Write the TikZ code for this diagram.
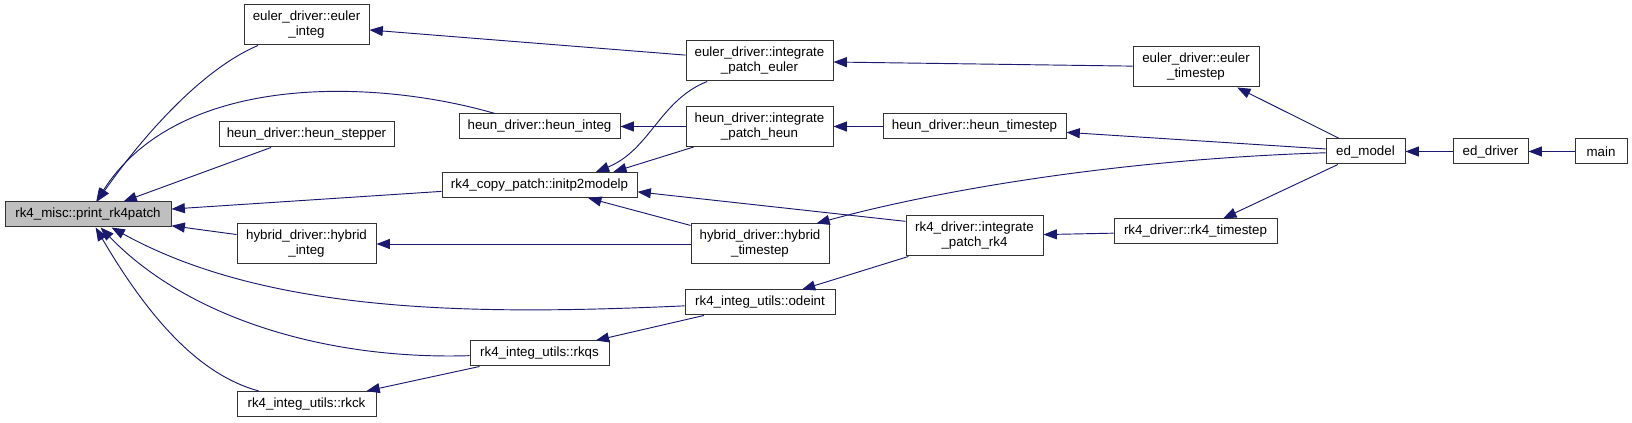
\documentclass[tikz,border=0pt]{standalone}
\usepackage{fontspec}
\setmainfont{Liberation Sans}
\usepackage{tikz}
\usetikzlibrary{arrows.meta}

\definecolor{edgeblue}{HTML}{191970}
\definecolor{boxgray}{HTML}{BFBFBF}

\begin{document}
\begin{tikzpicture}[x=0.75pt, y=-0.75pt, >={Triangle[length=10pt,width=7.5pt]},
  font=\fontsize{10}{11.3}\selectfont,
  fn/.style={draw=black!80, line width=0.75pt, fill=white, inner sep=0pt, align=center, minimum height=18.75pt},
  fn2/.style={fn, minimum height=30pt},
  call/.style={->, draw=edgeblue, line width=0.7pt}]
\useasboundingbox (0,0) rectangle (1632,423);

\node[fn, fill=boxgray, minimum width=124.5pt] (print) at (88,214.5) {rk4\_misc::print\_rk4patch};

\node[fn2, minimum width=93.75pt] (eulerinteg) at (306.5,25) {euler\_driver::euler\\\_integ};
\node[fn, minimum width=131.25pt] (heunstepper) at (306.5,134.5) {heun\_driver::heun\_stepper};
\node[fn2, minimum width=104.25pt] (hybridinteg) at (306.5,244) {hybrid\_driver::hybrid\\\_integ};
\node[fn, minimum width=104.25pt] (rkck) at (306.5,404) {rk4\_integ\_utils::rkck};

\node[fn, minimum width=120.75pt] (heuninteg) at (539.5,126.5) {heun\_driver::heun\_integ};
\node[fn, minimum width=146.25pt] (initp) at (539.5,185) {rk4\_copy\_patch::initp2modelp};
\node[fn, minimum width=104.25pt] (rkqs) at (539.5,353.5) {rk4\_integ\_utils::rkqs};

\node[fn2, minimum width=110.25pt] (patcheuler) at (759.5,61) {euler\_driver::integrate\\\_patch\_euler};
\node[fn2, minimum width=110.25pt] (patchheun) at (759.5,126.5) {heun\_driver::integrate\\\_patch\_heun};
\node[fn2, minimum width=103.5pt] (hybridts) at (760,244) {hybrid\_driver::hybrid\\\_timestep};
\node[fn, minimum width=112.5pt] (odeint) at (760,302.5) {rk4\_integ\_utils::odeint};

\node[fn, minimum width=137.25pt] (heunts) at (974.5,126.5) {heun\_driver::heun\_timestep};
\node[fn2, minimum width=102.75pt] (patchrk4) at (974.5,236) {rk4\_driver::integrate\\\_patch\_rk4};

\node[fn2, minimum width=94.5pt] (eulerts) at (1196,67) {euler\_driver::euler\\\_timestep};
\node[fn, minimum width=122.25pt] (rk4ts) at (1195.5,231.5) {rk4\_driver::rk4\_timestep};

\node[fn, minimum width=59.25pt] (edmodel) at (1365.5,151.5) {ed\_model};
\node[fn, minimum width=56.25pt] (eddriver) at (1490.5,151.5) {ed\_driver};
\node[fn, minimum width=39pt] (main) at (1601,151.5) {main};

% callers of print_rk4patch
\draw[call] (eulerinteg) .. controls (200,70) and (140,140) .. (print);
\draw[call] (heuninteg) .. controls (380,80) and (180,70) .. (print);
\draw[call] (heunstepper) -- (print);
\draw[call] (initp) -- (print);
\draw[call] (hybridinteg) -- (print);
\draw[call] (odeint) .. controls (480,315) and (270,315) .. (print);
\draw[call] (rkqs) .. controls (330,360) and (190,320) .. (print);
\draw[call] (rkck) .. controls (200,375) and (150,320) .. (print);

% second level
\draw[call] (patcheuler) -- (eulerinteg);
\draw[call] (patchheun) -- (heuninteg);
\draw[call] (patcheuler) .. controls (660,100) and (650,150) .. (initp.13);
\draw[call] (patchheun) -- (initp.10);
\draw[call] (hybridts) -- (initp);
\draw[call] (patchrk4.168) -- (initp.-4);
\draw[call] (hybridts) -- (hybridinteg);
\draw[call] (patchrk4) -- (odeint);
\draw[call] (odeint) -- (rkqs);
\draw[call] (rkqs) -- (rkck);

% timesteps and drivers
\draw[call] (eulerts) -- (patcheuler);
\draw[call] (heunts) -- (patchheun);
\draw[call] (rk4ts) -- (patchrk4);
\draw[call] (edmodel) -- (eulerts);
\draw[call] (edmodel) -- (heunts);
\draw[call] (edmodel) .. controls (1100,160) and (920,195) .. (hybridts.20);
\draw[call] (edmodel) -- (rk4ts);
\draw[call] (eddriver) -- (edmodel);
\draw[call] (main) -- (eddriver);
\end{tikzpicture}
\end{document}
